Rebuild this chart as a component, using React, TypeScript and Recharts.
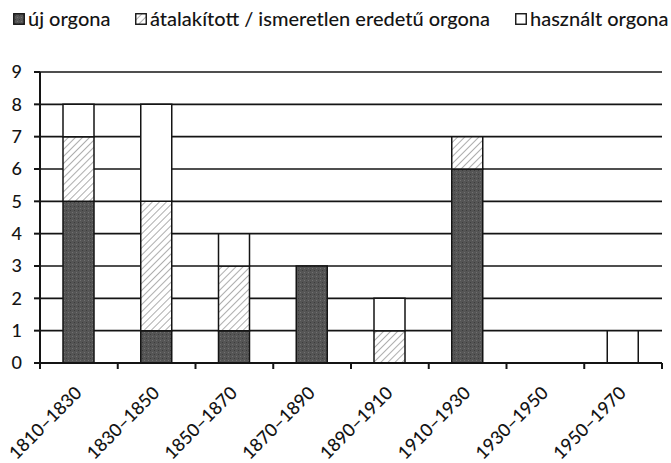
import React from "react";
import { Bar, BarChart, CartesianGrid, XAxis, YAxis } from "recharts";

const periods = [
  "1810–1830",
  "1830–1850",
  "1850–1870",
  "1870–1890",
  "1890–1910",
  "1910–1930",
  "1930–1950",
  "1950–1970",
];
const ujOrgona = [5, 1, 1, 3, 0, 6, 0, 0];
const atalakitottOrgona = [2, 4, 2, 0, 1, 1, 0, 0];
const hasznaltOrgona = [1, 3, 1, 0, 1, 0, 0, 1];
const yTicks = [0, 1, 2, 3, 4, 5, 6, 7, 8, 9];

const series = [
  { key: "uj", name: "új orgona", fill: "url(#darkFill)" },
  { key: "atalakitott", name: "átalakított / ismeretlen eredetű orgona", fill: "url(#hatchFill)" },
  { key: "hasznalt", name: "használt orgona", fill: "#fff" },
];

const data = periods.map((period, i) => ({
  period,
  uj: ujOrgona[i],
  atalakitott: atalakitottOrgona[i],
  hasznalt: hasznaltOrgona[i],
}));

const W = 671;
const H = 463;
const margin = { top: 72, right: 9, bottom: 10, left: 0 };
const yAxisWidth = 40;
const band = (W - margin.left - margin.right - yAxisWidth) / periods.length;
const font = "Lato, 'Open Sans', sans-serif";
const ink = "#141414";
const legendX = [13, 135, 515];

function PeriodTick(props: any) {
  const { x, y, payload, index } = props;
  const ax = x + 4;
  const ay = y + 31;
  return (
    <g>
      <line x1={x - band / 2} y1={y} x2={x - band / 2} y2={y + 6} stroke={ink} strokeWidth={2} />
      {index === periods.length - 1 && (
        <line x1={x + band / 2} y1={y} x2={x + band / 2} y2={y + 6} stroke={ink} strokeWidth={2} />
      )}
      <text
        x={ax}
        y={ay}
        textAnchor="end"
        transform={`rotate(-45, ${ax}, ${ay})`}
        fontSize={18}
        fontWeight={500}
        fontFamily={font}
        fill={ink}
      >
        {payload.value}
      </text>
    </g>
  );
}

export default function App() {
  return (
    <div style={{ position: "absolute", left: 0, top: 0, width: W, height: H, background: "#fff" }}>
      <style>{`body{margin:0}`}</style>
      {series.map((s, i) => (
        <div
          key={s.key}
          style={{
            position: "absolute",
            left: legendX[i],
            top: 8,
            height: 20,
            fontFamily: font,
            fontSize: 20,
            lineHeight: "20px",
            fontWeight: 500,
            color: ink,
            whiteSpace: "nowrap",
          }}
        >
          <svg width={12} height={12} style={{ position: "absolute", left: 0, top: 5 }}>
            <rect x={0.75} y={0.75} width={10.5} height={10.5} fill={s.fill} stroke={ink} strokeWidth={1.4} />
          </svg>
          <span style={{ marginLeft: 15 }}>{s.name}</span>
        </div>
      ))}
      <BarChart width={W} height={H} data={data} margin={margin} barSize={31}>
        <defs>
          <pattern id="darkFill" patternUnits="userSpaceOnUse" width={4} height={4}>
            <rect width={4} height={4} fill="#555" />
            <rect x={0} y={0} width={1} height={1} fill="#717171" />
            <rect x={2} y={2} width={1} height={1} fill="#3c3c3c" />
          </pattern>
          <pattern
            id="hatchFill"
            patternUnits="userSpaceOnUse"
            width={5}
            height={5}
            patternTransform="rotate(45)"
          >
            <rect width={5} height={5} fill="#fff" />
            <line x1={0} y1={0} x2={0} y2={5} stroke="#9a9a9a" strokeWidth={1.6} />
          </pattern>
        </defs>
        <CartesianGrid vertical={false} stroke={ink} strokeWidth={1.6} />
        <XAxis
          dataKey="period"
          interval={0}
          height={90}
          tickSize={0}
          tickMargin={0}
          tick={<PeriodTick />}
          axisLine={{ stroke: ink, strokeWidth: 2 }}
        />
        <YAxis
          domain={[0, 9]}
          ticks={yTicks}
          width={yAxisWidth}
          tickSize={6}
          tickMargin={12}
          tick={{ fontSize: 18, fontWeight: 500, fontFamily: font, fill: ink }}
          axisLine={{ stroke: ink, strokeWidth: 2 }}
          tickLine={{ stroke: ink, strokeWidth: 2 }}
        />
        {series.map((s) => (
          <Bar
            key={s.key}
            dataKey={s.key}
            name={s.name}
            stackId="a"
            fill={s.fill}
            stroke={ink}
            strokeWidth={1.5}
            isAnimationActive={false}
          />
        ))}
      </BarChart>
    </div>
  );
}
